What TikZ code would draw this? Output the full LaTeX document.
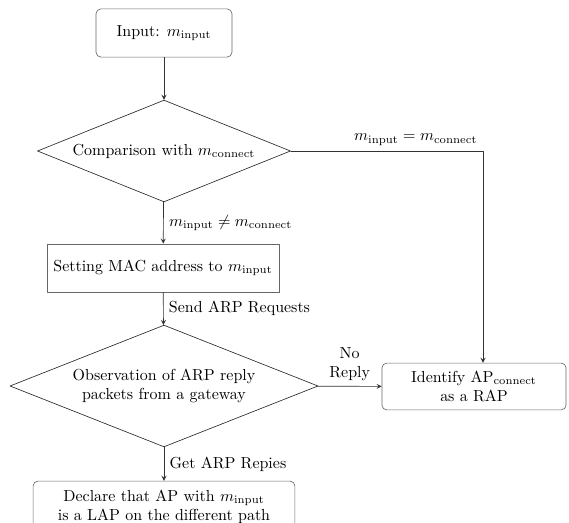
\documentclass[tikz,border=0pt]{standalone}
\usetikzlibrary{shapes.geometric,arrows}
\begin{document}
\begin{tikzpicture}[line cap=round,line join=round,>=stealth,x=0.022cm,y=-0.022cm,
  boxsq/.style={draw=black!60,rectangle,inner sep=0pt,align=center},
  boxrd/.style={boxsq,rounded corners=3pt},
  decide/.style={draw=black!85,diamond,aspect=2.5,inner sep=0pt,align=center},
  flow/.style={->,draw=black!80}]
\useasboundingbox (0,0) rectangle (569,523);
\node[boxrd,minimum width=2.99cm,minimum height=1.06cm] (inp) at (164,33) {Input: $m_{\mathrm{input}}$};
\node[decide,minimum width=5.57cm,minimum height=2.24cm] (cmp) at (164,151) {Comparison with $m_{\mathrm{connect}}$};
\node[boxsq,minimum width=5.1cm,minimum height=1.06cm] (mac) at (163,268) {Setting MAC address to $m_{\mathrm{input}}$};
\node[decide,minimum width=6.78cm,minimum height=2.68cm] (obs) at (164,386) {Observation of ARP reply\\packets from a gateway};
\node[boxrd,minimum width=4.05cm,minimum height=1.03cm] (rap) at (474,386.5) {Identify AP$_{\mathrm{connect}}$\\as a RAP};
\node[boxrd,minimum width=5.76cm,minimum height=1.14cm] (lap) at (164,507) {Declare that AP with $m_{\mathrm{input}}$\\is a LAP on the different path};
\coordinate (turn) at (483,151);
% arrows
\draw[flow] (inp) -- (cmp);
\draw[flow] (cmp) -- node[right] {$m_{\mathrm{input}}\neq m_{\mathrm{connect}}$} (mac);
\draw[flow] (mac) -- node[right] {Send ARP Requests} (obs);
\draw[flow] (obs) -- node[right] {Get ARP Repies} (lap);
\draw[flow] (obs) -- node[above,align=center] {No\\Reply} (rap);
\draw[flow] (cmp.east) -- node[pos=1,above left] {$m_{\mathrm{input}}=m_{\mathrm{connect}}$} (turn) -- (turn |- rap.north);
\end{tikzpicture}
\end{document}
